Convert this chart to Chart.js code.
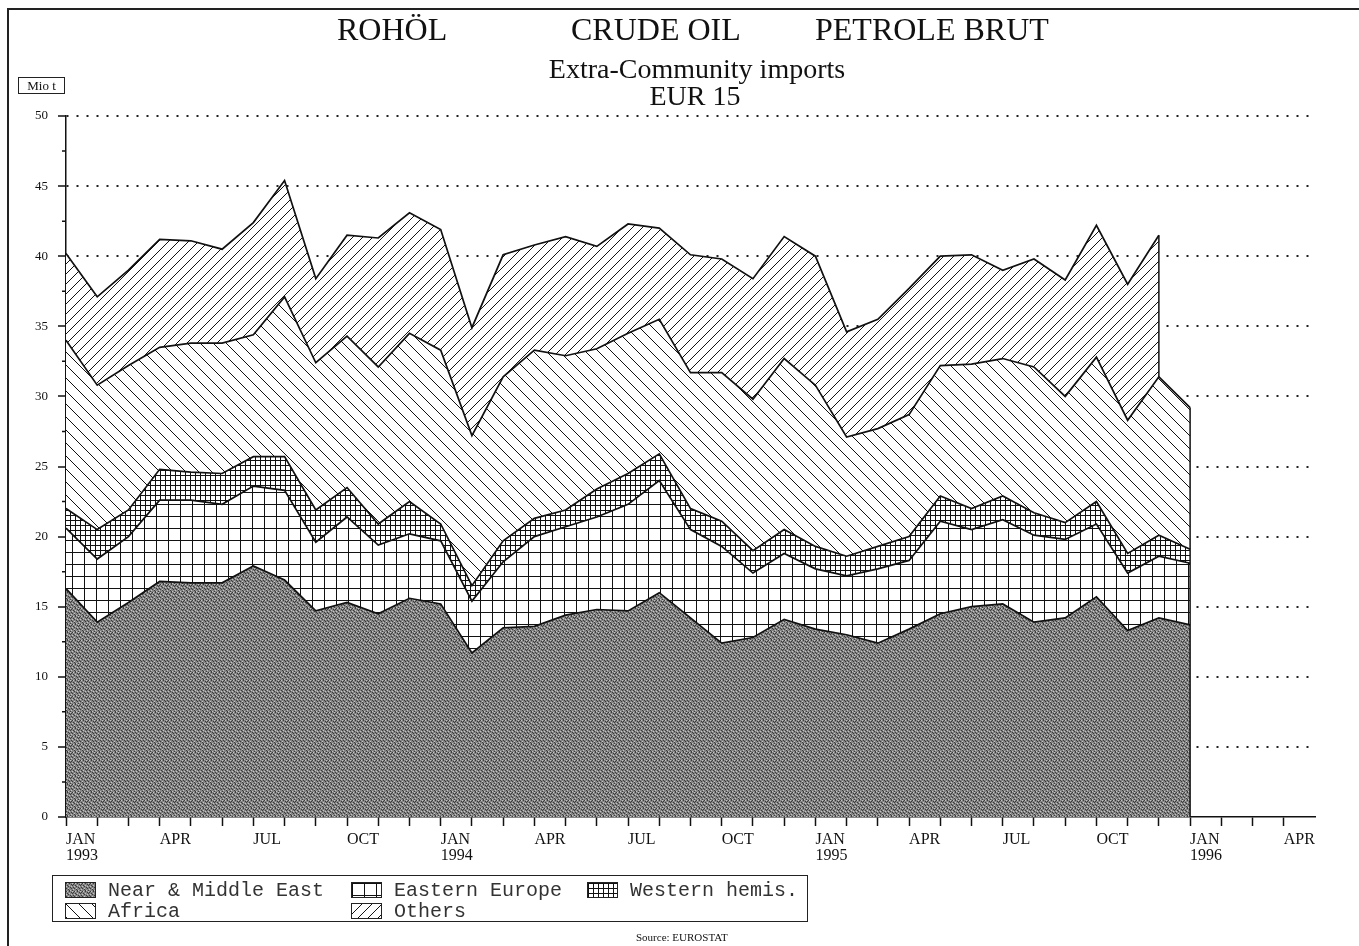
<!DOCTYPE html>
<html>
<head>
<meta charset="utf-8">
<script src="https://cdn.jsdelivr.net/npm/chart.js@4.4.1/dist/chart.umd.min.js"></script>
<style>
html, body { margin: 0; padding: 0; background: #fff; }
body { width: 1359px; height: 946px; position: relative; overflow: hidden;
       font-family: "Liberation Serif", "Times New Roman", serif; color: #111; }
#frame { position: absolute; left: 7px; top: 8px; width: 1360px; height: 950px;
         border-left: 2px solid #222; border-top: 2px solid #222; }
#crudeChart { position: absolute; left: 0; top: 0; }
.t { position: absolute; white-space: nowrap; line-height: 1; }
.c { transform: translateX(-50%); }
#unit { position: absolute; left: 18px; top: 77px; width: 45px; height: 15px; border: 1px solid #222;
        font-size: 13px; line-height: 15px; text-align: center; }
#legend { position: absolute; left: 52px; top: 875px; width: 754px; height: 45px; border: 1.5px solid #222; }
#legend canvas { position: absolute; border: 1px solid #222; }
#legend span { position: absolute; font-family: "Liberation Mono", monospace; font-size: 20px;
               line-height: 1; color: #333; white-space: nowrap; }
</style>
</head>
<body>
<div id="frame"></div>
<canvas id="crudeChart" width="1359" height="946"></canvas>

<div class="t" style="left:337px;top:13px;font-size:32px">ROHÖL</div>
<div class="t" style="left:571px;top:13px;font-size:32px">CRUDE OIL</div>
<div class="t" style="left:815px;top:13px;font-size:32px">PETROLE BRUT</div>
<div class="t c" style="left:697px;top:55px;font-size:28px">Extra-Community imports</div>
<div class="t c" style="left:695px;top:82px;font-size:28px">EUR 15</div>
<div id="unit">Mio t</div>
<div id="legend"></div>
<div class="t" style="left:636px;top:932px;font-size:11px">Source: EUROSTAT</div>

<script>
// months Jan 1993 .. May 1996 (axis runs one month past the last tick label)
const monthNames = ['JAN','FEB','MAR','APR','MAY','JUN','JUL','AUG','SEP','OCT','NOV','DEC'];
const categories = [];
for (let y = 1993; y <= 1996; y++) {
    for (let m = 0; m < 12; m++) {
        if (y === 1996 && m > 4) break;
        categories.push(monthNames[m] + ' ' + y);
    }
}
const yTicks = [0, 5, 10, 15, 20, 25, 30, 35, 40, 45, 50];

// Mio t, Jan 1993 .. Jan 1996
const nearMiddleEast = [16.3,13.9,15.3,16.8,16.7,16.7,17.9,16.9,14.7,15.3,14.5,15.6,15.2,11.7,13.5,13.6,14.4,14.8,14.7,16.0,14.2,12.4,12.8,14.1,13.4,13.0,12.4,13.4,14.5,15.0,15.2,13.9,14.2,15.7,13.3,14.2,13.7];
const easternEurope  = [4.3,4.5,4.7,5.8,5.9,5.6,5.7,6.4,4.9,6.1,4.9,4.6,4.5,3.7,4.7,6.4,6.3,6.6,7.6,8.0,6.3,6.9,4.6,4.7,4.3,4.2,5.3,4.9,6.6,5.5,6.0,6.2,5.6,5.2,4.1,4.4,4.4];
const westernHemis   = [1.4,2.1,1.9,2.2,2.0,2.2,2.1,2.4,2.3,2.1,1.5,2.3,1.2,1.1,1.5,1.3,1.2,2.0,2.2,1.9,1.5,1.8,1.6,1.7,1.6,1.4,1.6,1.7,1.8,1.5,1.7,1.6,1.2,1.6,1.4,1.5,1.0];
const africa         = [12.0,10.3,10.3,8.7,9.2,9.3,8.7,11.4,10.5,10.8,11.2,12.0,12.4,10.7,11.7,12.0,11.0,10.0,10.0,9.6,9.7,10.6,10.8,12.2,11.5,8.5,8.4,8.7,9.3,10.3,9.8,10.4,9.0,10.3,9.5,11.3,10.1];
const others         = [6.2,6.3,6.8,7.7,7.3,6.7,8.0,8.3,6.0,7.2,9.2,8.6,8.6,7.7,8.7,7.5,8.5,7.3,7.8,6.5,8.4,8.1,8.6,8.7,9.2,7.5,7.8,9.0,7.8,7.8,6.3,7.7,8.3,9.4,9.7,10.1,null];

const seriesNames = ['Near & Middle East', 'Eastern Europe', 'Western hemis.', 'Africa', 'Others'];

// hatch patterns
function makePattern(size, draw) {
    const c = document.createElement('canvas');
    c.width = size; c.height = size;
    const g = c.getContext('2d');
    g.fillStyle = '#fff';
    g.fillRect(0, 0, size, size);
    draw(g, size);
    return g.createPattern(c, 'repeat');
}

// fixed dither for the grey stipple
const ditherDark  = [[0,0],[3,0],[5,1],[1,2],[6,2],[2,3],[4,4],[7,4],[0,5],[5,5],[2,6],[6,7],[3,7],[7,1]];
const ditherLight = [[1,0],[6,0],[3,2],[0,3],[5,3],[2,5],[7,6],[4,7]];
const stipple = makePattern(8, (g, s) => {
    g.fillStyle = '#858585';
    g.fillRect(0, 0, s, s);
    g.fillStyle = '#3c3c3c';
    ditherDark.forEach(p => g.fillRect(p[0], p[1], 1, 1));
    g.fillStyle = '#c4c4c4';
    ditherLight.forEach(p => g.fillRect(p[0], p[1], 1, 1));
});
const grid = makePattern(12, (g, s) => {
    g.fillStyle = '#111';
    g.fillRect(0, 0, s, 1);
    g.fillRect(0, 0, 1, s);
});
const fineGrid = makePattern(5, (g, s) => {
    g.fillStyle = '#111';
    g.fillRect(0, 0, s, 1);
    g.fillRect(0, 0, 1, s);
});
const backSlash = makePattern(13, (g, s) => {
    g.strokeStyle = '#111';
    g.lineWidth = 1;
    g.beginPath();
    [-s, 0, s].forEach(k => { g.moveTo(k, 0); g.lineTo(k + s, s); });
    g.stroke();
});
const slash = makePattern(10, (g, s) => {
    g.strokeStyle = '#111';
    g.lineWidth = 1;
    g.beginPath();
    [0, s, 2 * s].forEach(k => { g.moveTo(k, 0); g.lineTo(k - s, s); });
    g.stroke();
});
const fills = [stipple, grid, fineGrid, backSlash, slash];

function area(i, data) {
    return {
        label: seriesNames[i],
        data: data,
        backgroundColor: fills[i],
        borderColor: '#111',
        borderWidth: 1.7,
        pointRadius: 0,
        tension: 0,
        fill: i === 0 ? 'origin' : '-1'
    };
}

// minor y ticks + the vertical edges at the end of the stacks
const edgesPlugin = {
    id: 'edges',
    afterDatasetsDraw(chart) {
        const ctx = chart.ctx;
        const ys = chart.scales.y;
        const left = chart.chartArea.left;
        const afr = chart.getDatasetMeta(3).data;
        const oth = chart.getDatasetMeta(4).data;
        let lastO = others.length - 1;
        while (others[lastO] === null) lastO--;
        const last = africa.length - 1;
        ctx.save();
        ctx.strokeStyle = '#111';
        ctx.lineWidth = 1.5;
        ctx.beginPath();
        for (let v = 2.5; v < 50; v += 5) {
            const py = ys.getPixelForValue(v);
            ctx.moveTo(left - 4, py);
            ctx.lineTo(left, py);
        }
        ctx.moveTo(oth[lastO].x, oth[lastO].y);
        ctx.lineTo(afr[lastO].x, afr[lastO].y);
        ctx.moveTo(afr[last].x, afr[last].y);
        ctx.lineTo(afr[last].x, ys.getPixelForValue(0));
        ctx.stroke();
        ctx.restore();
    }
};

new Chart(document.getElementById('crudeChart'), {
    type: 'line',
    data: {
        labels: categories,
        datasets: [
            area(0, nearMiddleEast),
            area(1, easternEurope),
            area(2, westernHemis),
            area(3, africa),
            area(4, others)
        ]
    },
    options: {
        responsive: false,
        animation: false,
        events: [],
        layout: { padding: { left: 8, top: 116, right: 44, bottom: 69 } },
        plugins: {
            legend: { display: false },
            tooltip: { enabled: false }
        },
        scales: {
            x: {
                offset: false,
                afterFit: (s) => { s.height = 60; },
                border: { display: true, color: '#111', width: 1.5 },
                grid: {
                    drawOnChartArea: false,
                    tickLength: 9,
                    tickWidth: 1.5,
                    tickColor: (c) => c.index < categories.length - 1 ? '#111' : 'rgba(0,0,0,0)'
                },
                ticks: {
                    autoSkip: false,
                    maxRotation: 0,
                    align: 'start',
                    padding: 5,
                    color: '#111',
                    font: { family: '"Liberation Serif", serif', size: 16, lineHeight: 1.05 },
                    callback: function (value, index) {
                        const lab = categories[index];
                        if (!lab || index === categories.length - 1) return '';
                        const [mon, yr] = lab.split(' ');
                        if (mon === 'JAN') return [mon, yr];
                        if (mon === 'APR' || mon === 'JUL' || mon === 'OCT') return mon;
                        return '';
                    }
                }
            },
            y: {
                stacked: true,
                min: 0,
                max: 50,
                afterFit: (s) => { s.width = 58; },
                border: { display: true, color: '#111', width: 1.5, dash: [2, 8] },
                grid: {
                    lineWidth: 2,
                    color: (c) => (c.tick.value > 0 && yTicks.includes(c.tick.value)) ? '#222' : 'rgba(0,0,0,0)',
                    tickColor: (c) => yTicks.includes(c.tick.value) ? '#111' : 'rgba(0,0,0,0)',
                    tickLength: 8,
                    tickWidth: 1.5
                },
                ticks: {
                    stepSize: 2.5,
                    autoSkip: false,
                    padding: 10,
                    color: '#111',
                    font: { family: '"Liberation Serif", serif', size: 13 },
                    callback: (v) => yTicks.includes(v) ? String(v) : ''
                }
            }
        }
    },
    plugins: [edgesPlugin]
});

// legend
const legendItems = [
    { i: 0, x: 12,  y: 6 },
    { i: 1, x: 298, y: 6 },
    { i: 2, x: 534, y: 6 },
    { i: 3, x: 12,  y: 27 },
    { i: 4, x: 298, y: 27 }
];
const legendBox = document.getElementById('legend');
legendItems.forEach(it => {
    const sw = document.createElement('canvas');
    sw.width = 29; sw.height = 14;
    sw.style.left = it.x + 'px';
    sw.style.top = it.y + 'px';
    const g = sw.getContext('2d');
    g.fillStyle = fills[it.i];
    g.fillRect(0, 0, 29, 14);
    legendBox.appendChild(sw);
    const sp = document.createElement('span');
    sp.textContent = seriesNames[it.i];
    sp.style.left = (it.x + 43) + 'px';
    sp.style.top = (it.y - 1) + 'px';
    legendBox.appendChild(sp);
});
</script>
</body>
</html>
